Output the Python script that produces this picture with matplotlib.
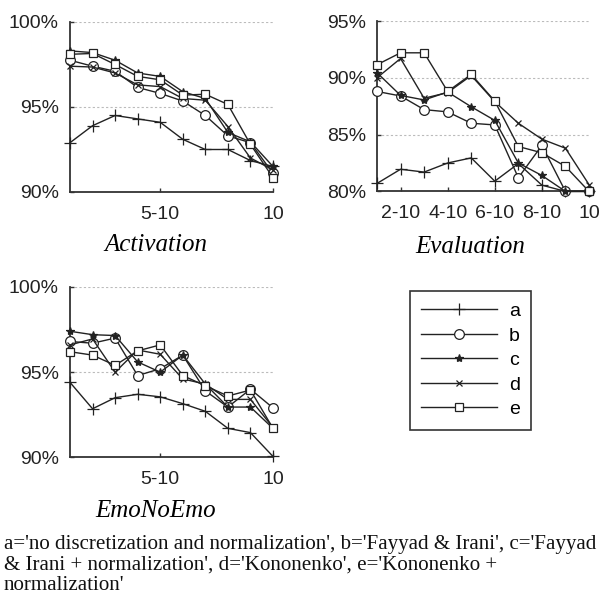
import numpy as np
import matplotlib
matplotlib.use("Agg")
import matplotlib.pyplot as plt

plt.rcParams["font.family"] = ["Liberation Sans", "DejaVu Sans"]

# ── Données (précision en %) ────────────────────────────────────────────────
steps = [1, 2, 3, 4, 5, 6, 7, 8, 9, 10]
series_names = ["a", "b", "c", "d", "e"]
markers = ["+", "o", "*", "x", "s"]

act_a = [92.9, 93.9, 94.5, 94.3, 94.1, 93.1, 92.5, 92.5, 91.85, 91.5]
act_b = [97.75, 97.4, 97.1, 96.15, 95.8, 95.35, 94.5, 93.3, 92.9, 91.1]
act_c = [98.3, 98.2, 97.75, 97.0, 96.8, 95.9, 95.5, 93.5, 92.95, 91.5]
act_d = [97.4, 97.35, 97.0, 96.3, 96.2, 95.5, 95.4, 93.85, 92.0, 91.3]
act_e = [98.1, 98.15, 97.5, 96.8, 96.6, 95.7, 95.75, 95.15, 92.8, 90.85]

eva_a = [80.7, 81.95, 81.7, 82.5, 82.95, 80.9, 82.45, 80.55, 80.0, 80.0]
eva_b = [88.8, 88.4, 87.2, 87.0, 86.0, 85.85, 81.2, 84.05, 80.0, 80.0]
eva_c = [90.45, 88.45, 88.05, 88.75, 87.45, 86.25, 82.5, 81.4, 80.0, 80.0]
eva_d = [90.0, 91.7, 88.2, 88.7, 90.2, 87.9, 86.0, 84.6, 83.8, 80.6]
eva_e = [91.15, 92.2, 92.2, 88.8, 90.3, 87.95, 83.95, 83.4, 82.2, 80.0]

emo_a = [94.4, 92.85, 93.5, 93.7, 93.55, 93.15, 92.7, 91.7, 91.45, 90.05]
emo_b = [96.8, 96.7, 97.0, 94.8, 95.2, 96.0, 93.9, 92.95, 94.0, 92.9]
emo_c = [97.4, 97.2, 97.15, 95.6, 95.0, 96.0, 94.3, 92.95, 92.95, 91.7]
emo_d = [96.6, 96.95, 95.0, 96.3, 96.05, 94.6, 94.3, 93.4, 93.4, 91.75]
emo_e = [96.2, 96.0, 95.4, 96.25, 96.6, 94.8, 94.2, 93.6, 93.95, 91.7]

act_ticks, act_labels = [5, 10], ["5-10", "10"]
eva_ticks, eva_labels = [2, 4, 6, 8, 10], ["2-10", "4-10", "6-10", "8-10", "10"]

caption = ["a='no discretization and normalization', b='Fayyad & Irani', c='Fayyad",
           "& Irani + normalization', d='Kononenko', e='Kononenko +",
           "normalization'"]

# ── Figure ───────────────────────────────────────────────────────────────────
fig = plt.figure(figsize=(6.0, 5.99), dpi=100)
W, H = 600.0, 599.0

def make_ax(x0, y0, x1, y1):
    return fig.add_axes([x0 / W, 1 - y1 / H, (x1 - x0) / W, (y1 - y0) / H])

def draw(ax, data, ylim, yticks, xticks, xlabels):
    for vals, m in zip(data, markers):
        mfc = "white" if m in ("o", "s") else "#222222"
        ms = {"+": 8, "o": 7, "*": 6, "x": 5, "s": 6}[m]
        ax.plot(steps, vals, color="#222222", lw=1.0, marker=m, ms=ms,
                mfc=mfc, mec="#222222", mew=0.9, clip_on=False, zorder=3)
    ax.set_xlim(1, 10)
    ax.set_ylim(*ylim)
    ax.set_yticks(yticks)
    ax.set_yticklabels([f"{v}%" for v in yticks])
    ax.set_xticks(xticks)
    ax.set_xticklabels(xlabels)
    for t in yticks[1:]:
        ax.axhline(t, color="#bbbbbb", lw=0.8, ls=(0, (2, 2)), zorder=1)
    for s in ["top", "right"]:
        ax.spines[s].set_visible(False)
    for s in ["left", "bottom"]:
        ax.spines[s].set_linewidth(1.3)
        ax.spines[s].set_color("#333333")
    ax.tick_params(axis="both", direction="in", length=3, width=1, colors="#333333",
                   labelsize=14, labelcolor="#222222")
    ax.tick_params(axis="y", pad=8)
    ax.tick_params(axis="x", pad=10)

ax1 = make_ax(70, 22, 273, 192)
draw(ax1, [act_a, act_b, act_c, act_d, act_e], (90, 100), [90, 95, 100], act_ticks, act_labels)

ax2 = make_ax(377, 21, 589, 191.4)
draw(ax2, [eva_a, eva_b, eva_c, eva_d, eva_e], (80, 95), [80, 85, 90, 95], eva_ticks, eva_labels)

ax3 = make_ax(70, 287, 273, 457.3)
draw(ax3, [emo_a, emo_b, emo_c, emo_d, emo_e], (90, 100), [90, 95, 100], act_ticks, act_labels)

# titres en italique sous chaque panneau
tfont = dict(family="Liberation Serif", style="italic", fontsize=18, ha="center", va="center")
fig.text(156 / W, 1 - 245 / H, "Activation", **tfont)
fig.text(470 / W, 1 - 247 / H, "Evaluation", **tfont)
fig.text(156 / W, 1 - 511 / H, "EmoNoEmo", **tfont)

# légende
handles = ax1.get_lines()[:5]
leg = fig.legend(handles, series_names, loc="upper left",
                 bbox_to_anchor=(409.5 / W, 1 - 291 / H), borderaxespad=0,
                 fontsize=14, handlelength=3.9, handletextpad=0.6,
                 labelspacing=0.35, borderpad=0.6, fancybox=False, framealpha=1)
leg.get_frame().set_edgecolor("#333333")
leg.get_frame().set_linewidth(1.2)

# légende texte en bas
for i, line in enumerate(caption):
    fig.text(4 / W, 1 - (545 + i * 20.3) / H, line, family="Liberation Serif",
             fontsize=15.1, ha="left", va="center", color="#111111")

fig.savefig("out.png", dpi=100)
plt.close(fig)
